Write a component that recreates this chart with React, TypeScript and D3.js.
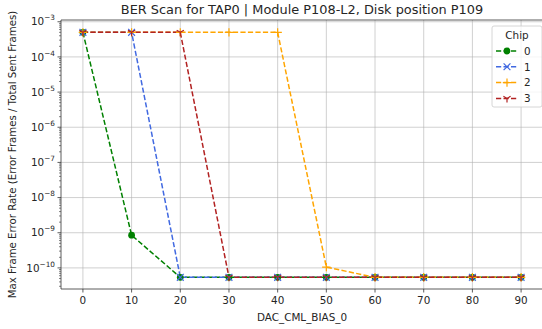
import * as d3 from "d3";

const dacValues = [0, 10, 20, 30, 40, 50, 60, 70, 80, 90];
const chip0 = [5e-4, 8.5e-10, 5.4e-11, 5.4e-11, 5.4e-11, 5.4e-11, 5.4e-11, 5.4e-11, 5.4e-11, 5.4e-11];
const chip1 = [5e-4, 5e-4, 5.4e-11, 5.4e-11, 5.4e-11, 5.4e-11, 5.4e-11, 5.4e-11, 5.4e-11, 5.4e-11];
const chip2 = [5e-4, 5e-4, 5e-4, 5e-4, 5e-4, 1.05e-10, 5.4e-11, 5.4e-11, 5.4e-11, 5.4e-11];
const chip3 = [5e-4, 5e-4, 5e-4, 5.4e-11, 5.4e-11, 5.4e-11, 5.4e-11, 5.4e-11, 5.4e-11, 5.4e-11];
const chipNames = ["0", "1", "2", "3"];
const xTicks = [0, 10, 20, 30, 40, 50, 60, 70, 80, 90];
const yExponents = [-3, -4, -5, -6, -7, -8, -9, -10];

const series = [chip0, chip1, chip2, chip3];
const colors = ["#008000", "#4169e1", "#ffa500", "#b22222"];
const markers = ["circle", "x", "plus", "tri"];

const W = 542;
const H = 329;
const left = 61;
const right = 543;
const top = 20;
const bottom = 289;
const font = "DejaVu Sans, sans-serif";

function Marker({ kind, cx, cy, color }: { kind: string; cx: number; cy: number; color: string }) {
  const r = 3.4;
  if (kind === "circle") return <circle cx={cx} cy={cy} r={r} fill={color} />;
  if (kind === "x")
    return (
      <path
        d={`M${cx - r},${cy - r}L${cx + r},${cy + r}M${cx - r},${cy + r}L${cx + r},${cy - r}`}
        stroke={color}
        strokeWidth={1.2}
      />
    );
  if (kind === "plus")
    return (
      <path
        d={`M${cx - 4.2},${cy}L${cx + 4.2},${cy}M${cx},${cy - 4.2}L${cx},${cy + 4.2}`}
        stroke={color}
        strokeWidth={1.2}
      />
    );
  // tri_down ("1" in matplotlib)
  return (
    <path
      d={`M${cx},${cy}L${cx},${cy + 4}M${cx},${cy}L${cx - 3.6},${cy - 2.1}M${cx},${cy}L${cx + 3.6},${cy - 2.1}`}
      stroke={color}
      strokeWidth={1.2}
    />
  );
}

export default function App() {
  const x = d3.scaleLinear().domain([-4.5, 94.5]).range([left, right]);
  const y = d3.scaleLog().domain([Math.pow(10, -10.6), Math.pow(10, -2.95)]).range([bottom, top]);

  const minorTicks: number[] = [];
  for (let e = -11; e <= -3; e++) {
    for (let m = 2; m <= 9; m++) {
      const py = y(m * Math.pow(10, e));
      if (py >= top && py <= bottom) minorTicks.push(py);
    }
  }

  const line = d3
    .line<number>()
    .x((_, i) => x(dacValues[i]))
    .y((d) => y(d));

  const legendX = 492;
  const legendY = 26;

  return (
    <svg width={W} height={H} style={{ position: "absolute", left: 0, top: 0, background: "#fff" }} fontFamily={font}>
      <rect width={W} height={H} fill="#fff" />
      {/* grid */}
      {xTicks.map((t) => (
        <line key={`gx${t}`} x1={x(t)} x2={x(t)} y1={top} y2={bottom} stroke="#b0b0b0" strokeOpacity={0.6} strokeWidth={1} />
      ))}
      {yExponents.map((e) => (
        <line key={`gy${e}`} x1={left} x2={right} y1={y(Math.pow(10, e))} y2={y(Math.pow(10, e))} stroke="#b0b0b0" strokeOpacity={0.6} strokeWidth={1} />
      ))}

      {/* lines */}
      {series.map((s, i) => (
        <path key={`l${i}`} d={line(s) || ""} fill="none" stroke={colors[i]} strokeWidth={1.5} strokeDasharray="5.2,2.3" />
      ))}
      {series.map((s, i) =>
        s.map((v, j) => <Marker key={`m${i}-${j}`} kind={markers[i]} cx={x(dacValues[j])} cy={y(v)} color={colors[i]} />)
      )}

      {/* spines */}
      <line x1={left} x2={left} y1={top} y2={bottom} stroke="#333" strokeWidth={0.8} />
      <line x1={left} x2={right} y1={bottom} y2={bottom} stroke="#333" strokeWidth={0.8} />
      <line x1={left} x2={right} y1={top} y2={top} stroke="#333" strokeWidth={0.8} />

      {/* x ticks */}
      {xTicks.map((t) => (
        <g key={`xt${t}`}>
          <line x1={x(t)} x2={x(t)} y1={bottom} y2={bottom + 3.5} stroke="#333" strokeWidth={0.8} />
          <text x={x(t)} y={bottom + 15} textAnchor="middle" fontSize={10.4} fill="#262626">
            {t}
          </text>
        </g>
      ))}

      {/* y ticks */}
      {minorTicks.map((py, i) => (
        <line key={`ym${i}`} x1={left - 2} x2={left} y1={py} y2={py} stroke="#333" strokeWidth={0.6} />
      ))}
      {yExponents.map((e) => {
        const py = y(Math.pow(10, e));
        return (
          <g key={`yt${e}`}>
            <line x1={left - 3.5} x2={left} y1={py} y2={py} stroke="#333" strokeWidth={0.8} />
            <text x={left - 6} y={py + 3.7} textAnchor="end" fontSize={10.4} fill="#262626">
              10
              <tspan fontSize={7.3} dy={-5}>
                {`\u2212${-e}`}
              </tspan>
            </text>
          </g>
        );
      })}

      {/* labels */}
      <text x={(left + right) / 2} y={14} textAnchor="middle" fontSize={12.9} fill="#262626">
        BER Scan for TAP0 | Module P108-L2, Disk position P109
      </text>
      <text x={(left + right) / 2} y={321} textAnchor="middle" fontSize={10.4} fill="#262626">
        DAC_CML_BIAS_0
      </text>
      <text transform={`translate(16,${(top + bottom) / 2}) rotate(-90)`} textAnchor="middle" fontSize={10.2} fill="#262626">
        Max Frame Error Rate (Error Frames / Total Sent Frames)
      </text>

      {/* legend */}
      <rect x={legendX} y={legendY} width={50} height={81} rx={2} fill="#fff" fillOpacity={0.8} stroke="#cccccc" strokeWidth={0.8} />
      <text x={legendX + 25} y={legendY + 13} textAnchor="middle" fontSize={10.4} fill="#262626">
        Chip
      </text>
      {chipNames.map((name, i) => {
        const ly = legendY + 25 + i * 15.8;
        return (
          <g key={`lg${i}`}>
            <line x1={legendX + 4} x2={legendX + 25} y1={ly} y2={ly} stroke={colors[i]} strokeWidth={1.5} strokeDasharray="5.2,2.3" />
            <Marker kind={markers[i]} cx={legendX + 15} cy={ly} color={colors[i]} />
            <text x={legendX + 32} y={ly + 3.7} fontSize={10.4} fill="#262626">
              {name}
            </text>
          </g>
        );
      })}
    </svg>
  );
}
